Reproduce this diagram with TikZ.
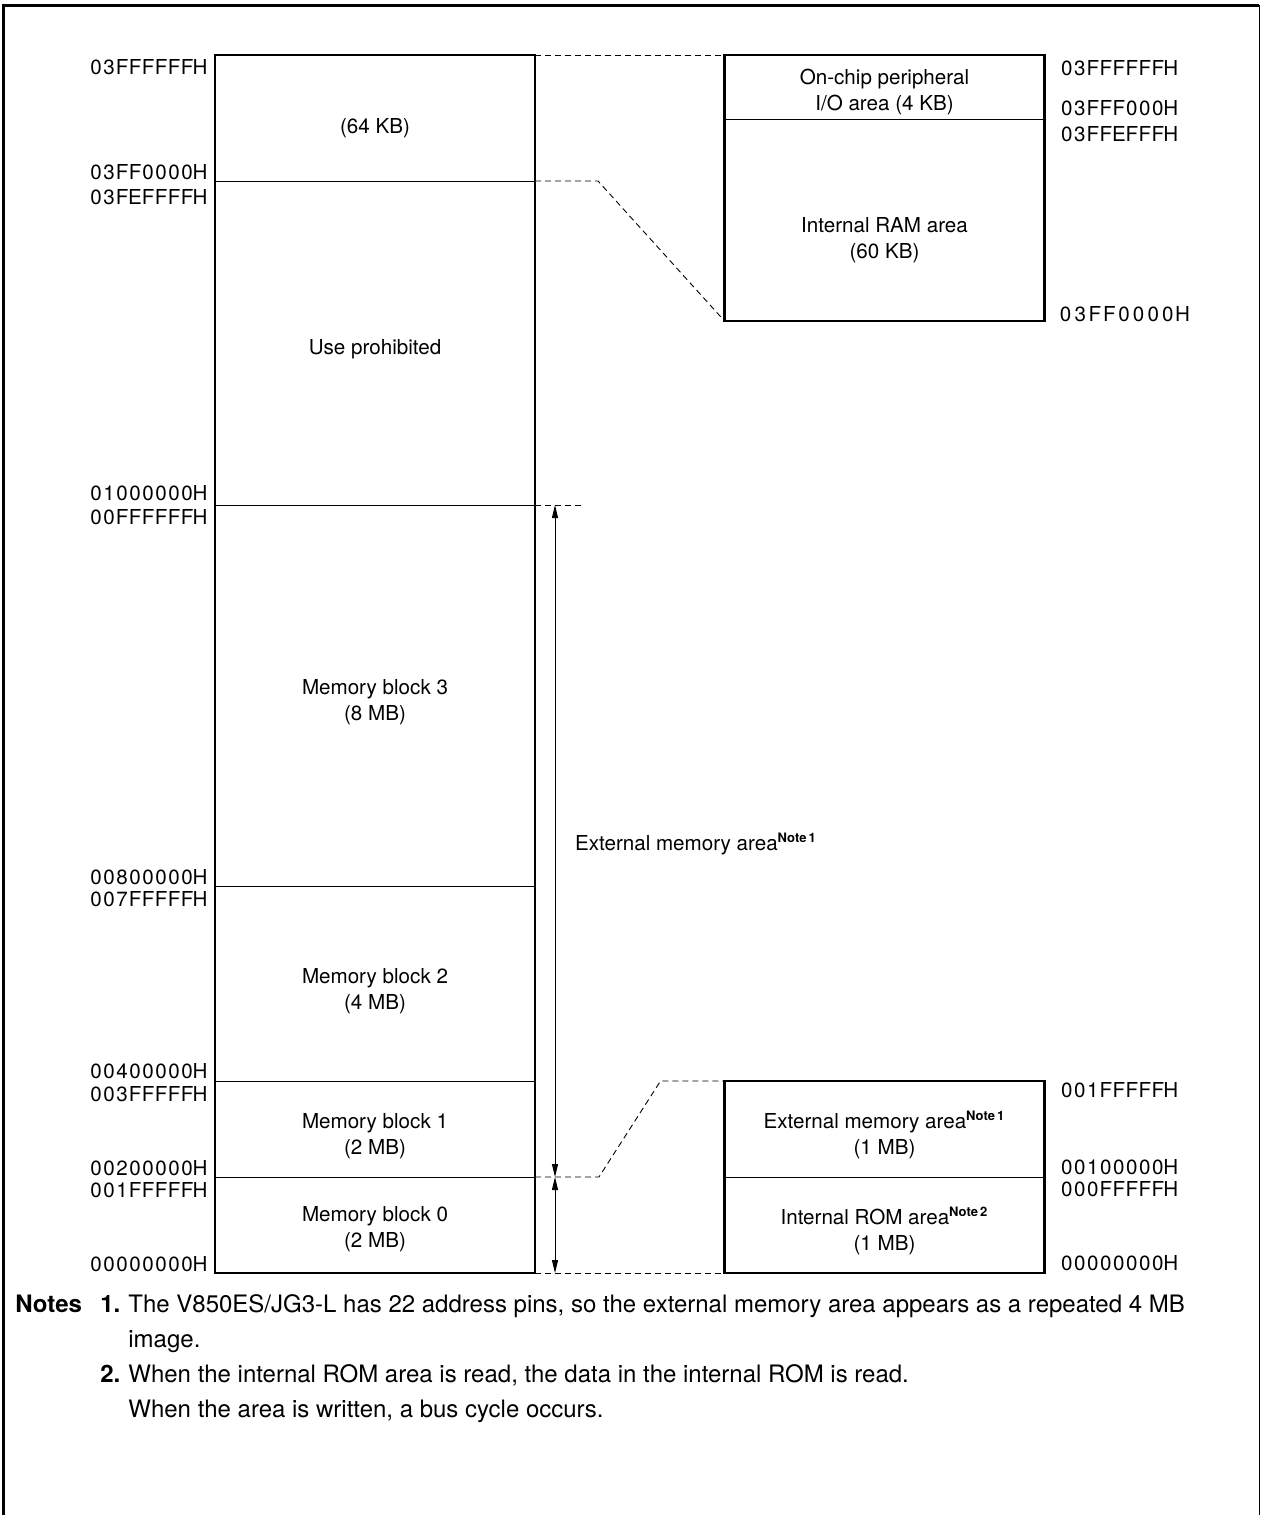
\documentclass[tikz,border=0pt]{standalone}
\usepackage{fontspec}
\setmainfont{TeX Gyre Heros}
\usetikzlibrary{arrows.meta,positioning,calc}
\makeatletter
\newcommand\hexa[2][6.5pt]{\def\hexa@w{#1}\expandafter\hexa@loop#2\relax}
\def\hexa@loop#1{\ifx#1\relax\else\makebox[\hexa@w][c]{#1}\expandafter\hexa@loop\fi}
\makeatother
\newcommand\notemark[1]{\textsuperscript{\fontsize{6.5}{7}\selectfont\bfseries Note\,#1}}
\tikzset{
  region/.style  = {rectangle, inner sep=0pt, outer sep=0pt, minimum width=160pt},
  rtext/.style 2 args = {label={[align=center, yshift=#1]center:#2}},
  addr/.style    = {inner sep=0pt},
  outline/.style = {line width=1.2pt},
  divline/.style = {line width=0.5pt},
  lead/.style    = {dash pattern=on 3pt off 2pt, line width=0.45pt},
  dim/.style     = {{Triangle[length=6.5pt,width=3pt]}-{Triangle[length=6.5pt,width=3pt]},
                    line width=0.45pt},
  note/.style    = {inner sep=0pt, anchor=base west, font=\fontsize{12}{14}\selectfont}
}

\begin{document}
\begin{tikzpicture}[x=0.5pt, y=-0.5pt, font=\fontsize{10.3}{13}\selectfont]
\useasboundingbox (0,0) rectangle (1260,1515);

% --- page frame ---
\draw[line width=1.5pt] (3,1515) -- (3,5) -- (1259,5);
\draw[line width=0.5pt] (1259,5) -- (1259,1515);

% --- whole address space ---
\node[region, minimum height=63pt, rtext={-5pt}{(64 KB)}] (r64) at (375,118) {};
\node[region, minimum height=162pt, below=0pt of r64, rtext={-3pt}{Use prohibited}] (usep) {};
\node[region, minimum height=190.5pt, below=0pt of usep, rtext={-3.5pt}{Memory block 3\\(8 MB)}] (mb3) {};
\node[region, minimum height=97.5pt, below=0pt of mb3, rtext={-4pt}{Memory block 2\\(4 MB)}] (mb2) {};
\node[region, minimum height=48pt, below=0pt of mb2, rtext={-3.5pt}{Memory block 1\\(2 MB)}] (mb1) {};
\node[region, minimum height=48pt, below=0pt of mb1, rtext={-2pt}{Memory block 0\\(2 MB)}] (mb0) {};
\foreach \n in {r64,usep,mb3,mb2,mb1}
  \draw[divline] (\n.south west) -- (\n.south east);
\draw[outline] (r64.north west) rectangle (mb0.south east);

% --- 64 KB detail ---
\node[region, minimum height=32pt, rtext={-2.5pt}{On-chip peripheral\\I/O area (4 KB)}] (io) at (884.5,87) {};
\node[region, minimum height=101pt, below=0pt of io, rtext={-10pt}{Internal RAM area\\(60 KB)}] (ram) {};
\draw[divline] (io.south west) -- (io.south east);
\draw[outline] (io.north west) rectangle (ram.south east);

% --- block 0 detail ---
\node[region, minimum height=48pt, rtext={-3pt}{External memory area\notemark{1}\\(1 MB)}] (ext1) at (ram |- mb1) {};
\node[region, minimum height=48pt, below=0pt of ext1, rtext={-3pt}{Internal ROM area\notemark{2}\\(1 MB)}] (rom) {};
\draw[divline] (ext1.south west) -- (ext1.south east);
\draw[outline] (ext1.north west) rectangle (rom.south east);

% dashed leaders
\coordinate (xtick) at ([xshift=24pt]usep.south east);
\draw[lead] (r64.north east) -- (io.north west);
\draw[lead] (r64.south east) -- ([xshift=31.5pt]r64.south east) -- (ram.south west);
\draw[lead] (usep.south east) -- (xtick);
\draw[lead] (mb1.south east) -- ([xshift=32pt]mb1.south east)
            -- ([xshift=-32pt]ext1.north west) -- (ext1.north west);
\draw[lead] (mb0.south east) -- (rom.south west);

% external memory span
\coordinate (xt) at ([xshift=10pt]usep.south east);
\coordinate (xm) at ([xshift=10pt]mb1.south east);
\coordinate (xb) at ([xshift=10pt]mb0.south east);
\draw[dim] (xt) -- (xm);
\draw[dim] (xm) -- (xb);
\node[anchor=west] (extlbl) at (568,844) {External memory area\notemark{1}};

% --- addresses ---
\foreach \y/\a in {67/03FFFFFFH, 172/03FF0000H, 197/03FEFFFFH, 493/01000000H,
                   517/00FFFFFFH, 877/00800000H, 899/007FFFFFH, 1071/00400000H,
                   1094/003FFFFFH, 1168/00200000H, 1190/001FFFFFH, 1264/00000000H}
  \node[addr, anchor=east] (l\y) at (207,\y) {\hexa{\a}};
\foreach \y/\a in {68/03FFFFFFH, 108/03FFF000H, 134/03FFEFFFH, 1090/001FFFFFH,
                   1167/00100000H, 1189/000FFFFFH, 1263/00000000H}
  \node[addr, anchor=west] (r\y) at (1060,\y) {\hexa{\a}};
\node[addr, anchor=west] (r314) at (1058,314) {\hexa[7.3pt]{03FF0000H}};

% --- notes ---
\node[note] (notes) at (15,1312) {\textbf{Notes}};
\node[note] (n1) at (100,1312) {\textbf{1.}};
\node[note] (n1a) at (128,1312) {The V850ES/JG3-L has 22 address pins, so the external memory area appears as a repeated 4 MB};
\node[note] (n1b) at (128,1347) {image.};
\node[note] (n2) at (100,1382) {\textbf{2.}};
\node[note] (n2a) at (128,1382) {When the internal ROM area is read, the data in the internal ROM is read.};
\node[note] (n2b) at (128,1417) {When the area is written, a bus cycle occurs.};

\end{tikzpicture}
\end{document}
